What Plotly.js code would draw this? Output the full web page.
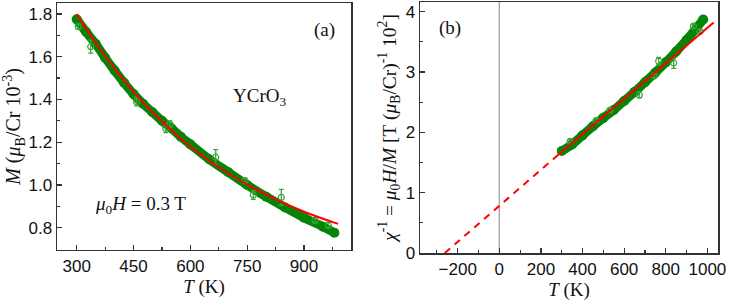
<!DOCTYPE html>
<html><head><meta charset="utf-8">
<script src="https://cdn.plot.ly/plotly-3.0.1.min.js"></script>
<style>html,body{margin:0;padding:0;background:#fff}</style>
</head><body><div id="chart" style="width:731px;height:302px"></div>
<script>
// Panel (a): M vs T
const T_a = [300,325,350,375,400,425,450,475,500,525,550,575,600,650,700,750,800,850,900,950,980];
const M_a = [1.775,1.715,1.66,1.595,1.535,1.478,1.425,1.38,1.34,1.30,1.265,1.225,1.19,1.12,1.06,1.0,0.945,0.895,0.847,0.805,0.777];
const Tfit_a = [300,350,400,450,500,600,700,800,900,990];
const Mfit_a = [1.80,1.665,1.545,1.435,1.34,1.18,1.055,0.955,0.875,0.818];
const Terr_a = [304,337,458,535,546,667,744,766,840,929,964];
const Merr_a = [1.74,1.647,1.39,1.265,1.285,1.13,1.02,0.953,0.942,0.835,0.812];
const Eerr_a = [0.012,0.03,0.02,0.02,0.015,0.035,0.012,0.02,0.037,0.012,0.012];
// Panel (b): inverse susceptibility vs T
const T_b = [300,350,400,450,500,550,600,650,700,750,800,850,900,950,980];
const C_b = [1.69,1.80,1.95,2.10,2.24,2.37,2.52,2.67,2.83,2.99,3.16,3.34,3.53,3.74,3.87];
const Tfit_b = [284,1030];
const Cfit_b = [1.63,3.82];
const Tdash_b = [-262,284];
const Cdash_b = [0,1.63];
const Terr_b = [340,465,532,673,745,766,838,933,965];
const Cerr_b = [1.85,2.195,2.37,2.62,2.935,3.18,3.15,3.76,3.67];
const Eerr_b = [0.03,0.03,0.03,0.05,0.03,0.06,0.09,0.03,0.03];

const G = '#078407', GL = '#3aa63a', R = '#ff0000', AX = '#333333';
const serif = 'Liberation Serif, Times New Roman, serif';
const sans = 'Liberation Sans, Arial, sans-serif';

const traces = [
  {x:T_a, y:M_a, xaxis:'x', yaxis:'y', mode:'lines+markers', line:{color:G,width:9,shape:'spline'}, marker:{color:G,size:10}, showlegend:false},
  {x:Terr_a, y:Merr_a, xaxis:'x', yaxis:'y', mode:'markers', marker:{symbol:'circle-open',color:GL,size:6,line:{width:1.2}},
   error_y:{type:'data',array:Eerr_a,color:GL,thickness:1.3,width:2.5}, showlegend:false},
  {x:Tfit_a, y:Mfit_a, xaxis:'x', yaxis:'y', mode:'lines', line:{color:R,width:2,shape:'spline'}, showlegend:false},
  {x:[0,0], y:[0,4.16], xaxis:'x2', yaxis:'y2', mode:'lines', line:{color:'#999999',width:1.2}, showlegend:false},
  {x:T_b, y:C_b, xaxis:'x2', yaxis:'y2', mode:'lines+markers', line:{color:G,width:9,shape:'spline'}, marker:{color:G,size:10}, showlegend:false},
  {x:Terr_b, y:Cerr_b, xaxis:'x2', yaxis:'y2', mode:'markers', marker:{symbol:'circle-open',color:GL,size:6,line:{width:1.2}},
   error_y:{type:'data',array:Eerr_b,color:GL,thickness:1.3,width:2.5}, showlegend:false},
  {x:Tfit_b, y:Cfit_b, xaxis:'x2', yaxis:'y2', mode:'lines', line:{color:R,width:2}, showlegend:false},
  {x:Tdash_b, y:Cdash_b, xaxis:'x2', yaxis:'y2', mode:'lines', line:{color:R,width:2,dash:'7px,6px'}, showlegend:false}
];

const axBase = {showline:true, linecolor:AX, linewidth:1.5, mirror:true, ticks:'inside', ticklen:5, tickwidth:1.2, tickcolor:AX,
  showgrid:false, zeroline:false, tickfont:{family:sans,size:17,color:'#111'}, automargin:false};

const layout = {
  width:731, height:302, margin:{l:57,r:13,t:2,b:49}, paper_bgcolor:'#fff', plot_bgcolor:'#fff', showlegend:false,
  xaxis:Object.assign({}, axBase, {domain:[0,0.4448], range:[248,1024], tick0:300, dtick:150,
    minor:{dtick:75, ticklen:3, tickcolor:AX, ticks:'inside'},
    title:{text:'<i>T</i> (K)', font:{family:serif,size:19,color:'#111'}, standoff:0}}),
  yaxis:Object.assign({}, axBase, {domain:[0.012,0.996], range:[0.696,1.851], tick0:0.8, dtick:0.2, tickformat:'.1f',
    minor:{dtick:0.1, ticklen:3, tickcolor:AX, ticks:'inside'},
    title:{text:'<i>M</i> (<i>μ</i><sub>B</sub>/Cr 10<sup>-3</sup>)', font:{family:serif,size:20,color:'#111'}, standoff:2}}),
  xaxis2:Object.assign({}, axBase, {anchor:'y2', domain:[0.5492,1], range:[-381,1051], tick0:0, dtick:200,
    minor:{dtick:100, ticklen:3, tickcolor:AX, ticks:'inside'},
    title:{text:'<i>T</i> (K)', font:{family:serif,size:19,color:'#111'}, standoff:0}}),
  yaxis2:Object.assign({}, axBase, {anchor:'x2', domain:[0,1], range:[0,4.16], tick0:0, dtick:1,
    minor:{dtick:0.5, ticklen:3, tickcolor:AX, ticks:'inside'},
    title:{text:'<i>χ</i><sup>-1</sup> = <i>μ</i><sub>0</sub><i>H</i>/<i>M</i> [T (<i>μ</i><sub>B</sub>/Cr)<sup>-1</sup> 10<sup>2</sup>]', font:{family:serif,size:19.5,color:'#111'}, standoff:4}}),
  annotations:[
    {text:'(a)', xref:'paper', yref:'paper', x:0.405, y:0.888, xanchor:'center', yanchor:'middle', showarrow:false, font:{family:serif,size:19,color:'#111'}},
    {text:'YCrO<sub>3</sub>', xref:'paper', yref:'paper', x:0.307, y:0.623, xanchor:'center', yanchor:'middle', showarrow:false, font:{family:serif,size:19,color:'#111'}},
    {text:'<i>μ</i><sub>0</sub><i>H</i> = 0.3 T', xref:'paper', yref:'paper', x:0.127, y:0.191, xanchor:'center', yanchor:'middle', showarrow:false, font:{family:serif,size:19,color:'#111'}},
    {text:'(b)', xref:'paper', yref:'paper', x:0.595, y:0.896, xanchor:'center', yanchor:'middle', showarrow:false, font:{family:serif,size:19,color:'#111'}}
  ]
};
Plotly.newPlot('chart', traces, layout, {displayModeBar:false, staticPlot:true});
</script></body></html>
